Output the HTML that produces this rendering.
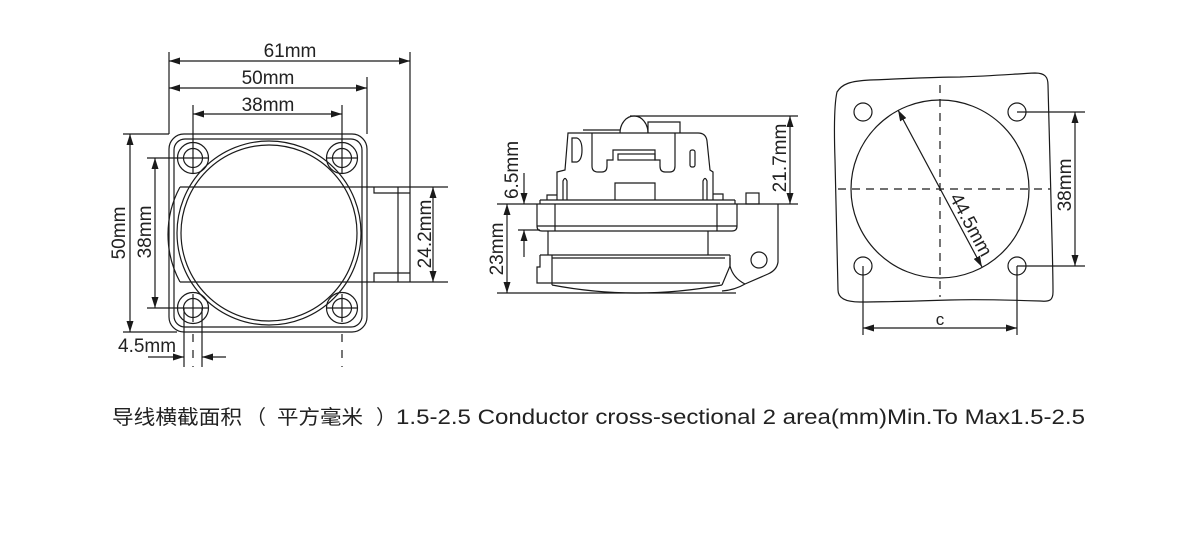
<!DOCTYPE html>
<html><head><meta charset="utf-8"><style>
html,body{margin:0;padding:0;background:#fff;}
svg{display:block;}
text{font-family:"Liberation Sans","Noto Sans CJK SC",sans-serif;fill:#222;}
</style></head><body>
<svg width="1178" height="537" viewBox="0 0 1178 537" xmlns="http://www.w3.org/2000/svg">
<defs>
<marker id="a" viewBox="0 0 11 7" refX="11" refY="3.5" markerWidth="11" markerHeight="7" markerUnits="userSpaceOnUse" orient="auto-start-reverse" preserveAspectRatio="none">
<path d="M0,0 L11,3.5 L0,7 z" fill="#1a1a1a" stroke="none"/>
</marker>
</defs>
<rect width="1178" height="537" fill="#fff"/>

<!-- ================= LEFT DRAWING ================= -->
<g fill="none" stroke="#1a1a1a" stroke-width="1.2">
  <line x1="169" y1="52" x2="169" y2="134"/>
  <line x1="410" y1="52" x2="410" y2="282"/>
  <line x1="367" y1="77" x2="367" y2="134"/>
  <line x1="193" y1="105" x2="193" y2="173"/>
  <line x1="342" y1="105" x2="342" y2="173"/>
  <line x1="169" y1="61" x2="410" y2="61" marker-start="url(#a)" marker-end="url(#a)"/>
  <line x1="169" y1="88" x2="367" y2="88" marker-start="url(#a)" marker-end="url(#a)"/>
  <line x1="193" y1="114" x2="342" y2="114" marker-start="url(#a)" marker-end="url(#a)"/>
  <line x1="123" y1="134" x2="169" y2="134"/>
  <line x1="123" y1="332" x2="177" y2="332"/>
  <line x1="147" y1="158" x2="208" y2="158"/>
  <line x1="147" y1="308" x2="208" y2="308"/>
  <line x1="327" y1="158" x2="357" y2="158"/>
  <line x1="327" y1="308" x2="357" y2="308"/>
  <line x1="130" y1="134" x2="130" y2="332" marker-start="url(#a)" marker-end="url(#a)"/>
  <line x1="155" y1="158" x2="155" y2="308" marker-start="url(#a)" marker-end="url(#a)"/>
  <rect x="169" y="134" width="198" height="198" rx="15"/>
  <rect x="174" y="139" width="188" height="188" rx="11"/>
  <circle cx="193" cy="158" r="15.5"/><circle cx="193" cy="158" r="9.5"/>
  <circle cx="342" cy="158" r="15.5"/><circle cx="342" cy="158" r="9.5"/>
  <circle cx="193" cy="308" r="15.5"/><circle cx="193" cy="308" r="9.5"/>
  <circle cx="342" cy="308" r="15.5"/><circle cx="342" cy="308" r="9.5"/>
  <line x1="193" y1="294" x2="193" y2="322"/>
  <line x1="342" y1="294" x2="342" y2="322"/>
  <circle cx="269" cy="233" r="92"/>
  <circle cx="269" cy="233" r="88"/>
  <line x1="180" y1="187" x2="448" y2="187"/>
  <line x1="180" y1="282" x2="448" y2="282"/>
  <path d="M180,187 A100,100 0 0 0 180,282"/>
  <path d="M374,187 L374,193 L410,193"/>
  <path d="M374,282 L374,273 L410,273"/>
  <line x1="398" y1="187" x2="398" y2="282"/>
  <line x1="433" y1="187" x2="433" y2="282" marker-start="url(#a)" marker-end="url(#a)"/>
  <line x1="184" y1="308" x2="184" y2="367"/>
  <line x1="202" y1="308" x2="202" y2="367"/>
  <line x1="193" y1="334" x2="193" y2="367" stroke-dasharray="8,8"/>
  <line x1="342" y1="334" x2="342" y2="367" stroke-dasharray="8,8"/>
  <line x1="148" y1="357" x2="184" y2="357" marker-end="url(#a)"/>
  <line x1="226" y1="357" x2="202" y2="357" marker-end="url(#a)"/>
</g>
<g font-size="19">
  <text x="290" y="57" text-anchor="middle">61mm</text>
  <text x="268" y="84" text-anchor="middle">50mm</text>
  <text x="268" y="111" text-anchor="middle">38mm</text>
  <text transform="translate(125,233) rotate(-90)" text-anchor="middle">50mm</text>
  <text transform="translate(151,232) rotate(-90)" text-anchor="middle">38mm</text>
  <text transform="translate(431,234) rotate(-90)" text-anchor="middle">24.2mm</text>
  <text x="118" y="352">4.5mm</text>
</g>

<!-- ================= MIDDLE DRAWING ================= -->
<g fill="none" stroke="#1a1a1a" stroke-width="1.2">
  <line x1="630" y1="116" x2="798" y2="116"/>
  <line x1="497" y1="204" x2="798" y2="204"/>
  <line x1="497" y1="293" x2="736" y2="293"/>
  <line x1="790" y1="116" x2="790" y2="204" marker-start="url(#a)" marker-end="url(#a)"/>
  <line x1="507" y1="204" x2="507" y2="293" marker-start="url(#a)" marker-end="url(#a)"/>
  <line x1="524" y1="173" x2="524" y2="204" marker-end="url(#a)"/>
  <line x1="524" y1="257" x2="524" y2="230" marker-end="url(#a)"/>
  <line x1="518" y1="230" x2="540" y2="230"/>
  <path d="M557,200 L557,172 L565,170 L568,133 L698,133 Q706,133 707,141 L710,170 L713,172 L713,200"/>
  <line x1="583" y1="130" x2="620" y2="130"/>
  <path d="M620,133 A14,17 0 0 1 648,133"/>
  <path d="M648,133 L648,122 L680,122 L680,133"/>
  <path d="M572,138 L577,138 Q582,140 582,150 Q582,160 577,162 L572,162 Z"/>
  <path d="M592,133 L592,166 Q592,172 598,172 L602,172 Q607,172 607,166 L607,160 L613,160 L613,150 L655,150 L655,160 L660,160 L660,166 Q660,172 665,172 L670,172 Q675,172 675,166 L675,133"/>
  <rect x="618" y="154" width="37" height="6"/>
  <path d="M615,200 L615,183 L655,183 L655,200"/>
  <path d="M563,200 L563,181 Q565,176 567,181 L567,200"/>
  <path d="M703,200 L703,181 Q705,176 707,181 L707,200"/>
  <rect x="690" y="150" width="5" height="17" rx="2"/>
  <path d="M547,200 L547,195 L557,195"/>
  <path d="M713,194 L723,194 L723,200"/>
  <line x1="540" y1="200" x2="735" y2="200"/>
  <path d="M540,200 L540,204 M537,204 L537,226 Q537,231 542,231 L732,231 Q737,231 737,226 L737,204 M735,200 L735,204"/>
  <line x1="555" y1="204" x2="555" y2="231"/>
  <line x1="717" y1="204" x2="717" y2="231"/>
  <line x1="537" y1="226" x2="737" y2="226"/>
  <line x1="548" y1="231" x2="548" y2="255"/>
  <line x1="708" y1="231" x2="708" y2="255"/>
  <line x1="540" y1="255" x2="730" y2="255"/>
  <line x1="552" y1="258" x2="725" y2="258"/>
  <path d="M540,255 L540,267 L537,267 L537,283 L552,283"/>
  <line x1="552" y1="255" x2="552" y2="285"/>
  <path d="M730,255 L730,266 L722,285"/>
  <line x1="552" y1="283" x2="720" y2="283"/>
  <path d="M552,285 Q636,301 722,285"/>
  <path d="M778,204 L778,262 Q777,270 768,274 L745,284 Q735,290 722,291"/>
  <path d="M730,258 L730,266 Q733,278 745,284"/>
  <circle cx="759" cy="260" r="8"/>
  <rect x="746" y="193" width="13" height="11"/>
</g>
<g font-size="19">
  <text transform="translate(786,158) rotate(-90)" text-anchor="middle">21.7mm</text>
  <text transform="translate(503,249) rotate(-90)" text-anchor="middle">23mm</text>
  <text transform="translate(518,170) rotate(-90)" text-anchor="middle">6.5mm</text>
</g>

<!-- ================= RIGHT DRAWING ================= -->
<g fill="none" stroke="#1a1a1a" stroke-width="1.2">
  <path d="M837,92 C842,84 850,81 870,80 C900,79 930,77 960,77 C990,76 1015,74 1035,73 C1045,73 1048,77 1048,85 C1049,120 1050,160 1051,200 C1052,240 1053,270 1053,292 C1053,300 1050,302 1040,301 C1010,300 980,299 950,300 C920,301 890,302 860,302 C845,302 838,298 838,290 C837,250 836,200 835,160 C834,130 834,105 837,92 Z"/>
  <circle cx="940" cy="189" r="89"/>
  <line x1="940" y1="85" x2="940" y2="297" stroke-dasharray="8,6"/>
  <line x1="838" y1="189" x2="1050" y2="189" stroke-dasharray="8,6"/>
  <circle cx="863" cy="112" r="9"/>
  <circle cx="1017" cy="112" r="9"/>
  <circle cx="863" cy="266" r="9"/>
  <circle cx="1017" cy="266" r="9"/>
  <line x1="1017" y1="112" x2="1085" y2="112"/>
  <line x1="1017" y1="266" x2="1085" y2="266"/>
  <line x1="1075" y1="112" x2="1075" y2="266" marker-start="url(#a)" marker-end="url(#a)"/>
  <line x1="863" y1="266" x2="863" y2="335"/>
  <line x1="1017" y1="266" x2="1017" y2="335"/>
  <line x1="863" y1="328" x2="1017" y2="328" marker-start="url(#a)" marker-end="url(#a)"/>
  <line x1="898" y1="110" x2="982" y2="267" marker-start="url(#a)" marker-end="url(#a)"/>
</g>
<g font-size="19">
  <text transform="translate(1071,185) rotate(-90)" text-anchor="middle">38mm</text>
  <text x="940" y="325" text-anchor="middle" font-size="17">c</text>
  <text transform="translate(965.5,227.7) rotate(61.8)" text-anchor="middle">44.5mm</text>
</g>

<!-- ================= CAPTION ================= -->
<g font-size="20">
  <text x="112" y="424" font-family="'Noto Sans CJK SC',sans-serif" textLength="130" lengthAdjust="spacingAndGlyphs">导线横截面积</text>
  <text x="246" y="424" font-family="'Noto Sans CJK SC',sans-serif">（</text>
  <text x="277" y="424" font-family="'Noto Sans CJK SC',sans-serif" textLength="86" lengthAdjust="spacingAndGlyphs">平方毫米</text>
  <text x="376" y="424" font-family="'Noto Sans CJK SC',sans-serif">）</text>
  <text x="396" y="424" font-size="21" textLength="689" lengthAdjust="spacingAndGlyphs">1.5-2.5 Conductor cross-sectional 2 area(mm)Min.To Max1.5-2.5</text>
</g>
</svg>
</body></html>
